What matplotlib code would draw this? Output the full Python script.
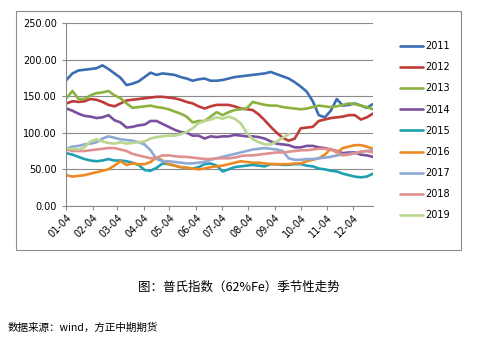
import datetime as dt

import matplotlib

matplotlib.use("Agg")
import matplotlib.dates as mdates
import matplotlib.pyplot as plt
from matplotlib.patches import Rectangle

plt.rcParams["font.family"] = ["DejaVu Sans", "Noto Sans CJK SC"]
plt.rcParams["axes.unicode_minus"] = False

# 普氏指数 62%Fe，按周取值，从 01-04 起
start = dt.date(2019, 1, 4)

s2011 = [172, 181, 185, 186, 187, 188, 192, 187, 181, 175, 165, 167, 170, 176, 182, 179,
         181, 180, 179, 176, 174, 171, 173, 174, 171, 171, 172, 174, 176, 177, 178, 179,
         180, 181, 183, 180, 177, 174, 169, 163, 156, 143, 124, 121, 130, 146, 137, 138,
         140, 137, 134, 139]
s2012 = [140, 143, 142, 143, 146, 145, 142, 138, 136, 140, 144, 145, 146, 147, 148, 149,
         149, 148, 147, 145, 142, 140, 136, 133, 136, 138, 138, 138, 136, 133, 132, 131,
         125, 117, 108, 100, 93, 89, 92, 106, 107, 108, 116, 118, 120, 121, 122, 124,
         124, 118, 121, 126]
s2013 = [147, 157, 146, 146, 151, 154, 155, 157, 151, 147, 140, 134, 135, 136, 137, 135,
         134, 132, 129, 126, 122, 114, 116, 116, 122, 128, 124, 128, 131, 132, 133, 142,
         140, 138, 137, 137, 135, 134, 133, 132, 133, 135, 137, 136, 135, 136, 138, 140,
         139, 137, 135, 132]
s2014 = [133, 130, 126, 123, 122, 120, 121, 124, 117, 114, 107, 108, 110, 111, 116, 116,
         112, 108, 104, 101, 100, 96, 96, 92, 95, 94, 95, 95, 97, 96, 95, 95,
         94, 92, 88, 85, 84, 83, 80, 80, 82, 82, 80, 79, 77, 75, 72, 73,
         73, 70, 69, 67]
s2015 = [72, 70, 67, 64, 62, 61, 62, 64, 62, 62, 61, 59, 56, 49, 48, 52,
         58, 57, 55, 53, 52, 51, 53, 57, 58, 55, 47, 50, 53, 54, 55, 56,
         55, 54, 57, 57, 56, 56, 57, 57, 55, 54, 51, 50, 48, 47, 44, 42,
         40, 39, 40, 44]
s2016 = [42, 40, 41, 42, 44, 46, 48, 50, 55, 61, 56, 58, 57, 57, 60, 66,
         62, 57, 55, 53, 52, 51, 50, 51, 53, 54, 55, 57, 59, 61, 60, 59,
         59, 58, 57, 57, 57, 57, 58, 58, 61, 63, 65, 70, 78, 73, 79, 81,
         83, 83, 81, 78]
s2017 = [78, 81, 82, 84, 85, 87, 92, 95, 93, 91, 90, 89, 87, 84, 76, 64,
         61, 61, 60, 59, 58, 58, 59, 60, 63, 65, 67, 69, 71, 73, 75, 77,
         78, 79, 78, 77, 75, 65, 63, 63, 64, 64, 65, 66, 67, 69, 70, 71,
         72, 74, 75, 76]
s2018 = [77, 75, 75, 75, 76, 77, 78, 79, 79, 77, 75, 71, 69, 67, 65, 66,
         69, 69, 68, 67, 67, 66, 65, 64, 64, 65, 65, 65, 66, 68, 69, 69,
         70, 71, 72, 73, 73, 74, 75, 76, 76, 77, 78, 78, 77, 74, 69, 70,
         72, 74, 75, 73]
s2019 = [78, 78, 77, 80, 88, 91, 88, 86, 85, 87, 85, 86, 87, 88, 92, 94,
         95, 96, 96, 98, 101, 106, 113, 116, 118, 121, 119, 122, 119, 113, 100, 91,
         87, 84, 84, 88, 93, 98]

years = ["2011", "2012", "2013", "2014", "2015", "2016", "2017", "2018", "2019"]
series = [s2011, s2012, s2013, s2014, s2015, s2016, s2017, s2018, s2019]
colors = ["#3b6db3", "#bf3b37", "#8cb23e", "#7a509e", "#1fa1b3",
          "#ee8a24", "#8fa9d6", "#df918f", "#bad68f"]

fig = plt.figure(figsize=(4.78, 3.42), dpi=100)
ax = fig.add_axes([0.139, 0.398, 0.641, 0.535])

for name, vals, c in zip(years, series, colors):
    dates = [start + dt.timedelta(days=7 * i) for i in range(len(vals))]
    ax.plot(dates, vals, color=c, lw=1.9, label=name, solid_capstyle="round")

ax.set_ylim(0, 250)
ax.set_yticks(range(0, 251, 50))
ax.yaxis.set_major_formatter(matplotlib.ticker.FormatStrFormatter("%.2f"))
ax.set_xlim(start, dt.date(2019, 12, 27))
ax.xaxis.set_major_locator(mdates.MonthLocator(bymonthday=4))
ax.xaxis.set_major_formatter(mdates.DateFormatter("%m-%d"))

ax.grid(axis="y", color="#8a8a8a", lw=0.8)
ax.set_axisbelow(True)
for side in ("top", "right"):
    ax.spines[side].set_visible(False)
for side in ("left", "bottom"):
    ax.spines[side].set_color("#8a8a8a")
    ax.spines[side].set_linewidth(0.8)
ax.tick_params(axis="both", length=3, width=0.8, color="#8a8a8a", labelsize=7)
ax.tick_params(axis="y", pad=4)
ax.tick_params(axis="x", pad=2)
for lab in ax.get_xticklabels():
    lab.set_rotation(45)
    lab.set_ha("right")
    lab.set_rotation_mode("anchor")

ax.legend(loc="upper left", bbox_to_anchor=(400 / 478, 1 - 41 / 342),
          bbox_transform=fig.transFigure, frameon=False, fontsize=7,
          handlelength=2.4, handletextpad=0.15, labelspacing=1.15,
          borderpad=0, borderaxespad=0)

fig.patches.append(Rectangle((16 / 478, 92 / 342), 445 / 478, 239 / 342,
                             transform=fig.transFigure, fill=False,
                             edgecolor="#8c8c8c", lw=0.8))

fig.text(0.5, 1 - 287 / 342, "图：普氏指数（62%Fe）季节性走势", ha="center", va="center",
         fontsize=9, family=["Noto Sans CJK SC", "DejaVu Sans"])
fig.text(8 / 478, 1 - 328 / 342, "数据来源：wind，方正中期期货", ha="left", va="center",
         fontsize=7.6, style="italic", family=["Noto Sans CJK SC", "DejaVu Sans"])

fig.savefig("out.png", dpi=100)
